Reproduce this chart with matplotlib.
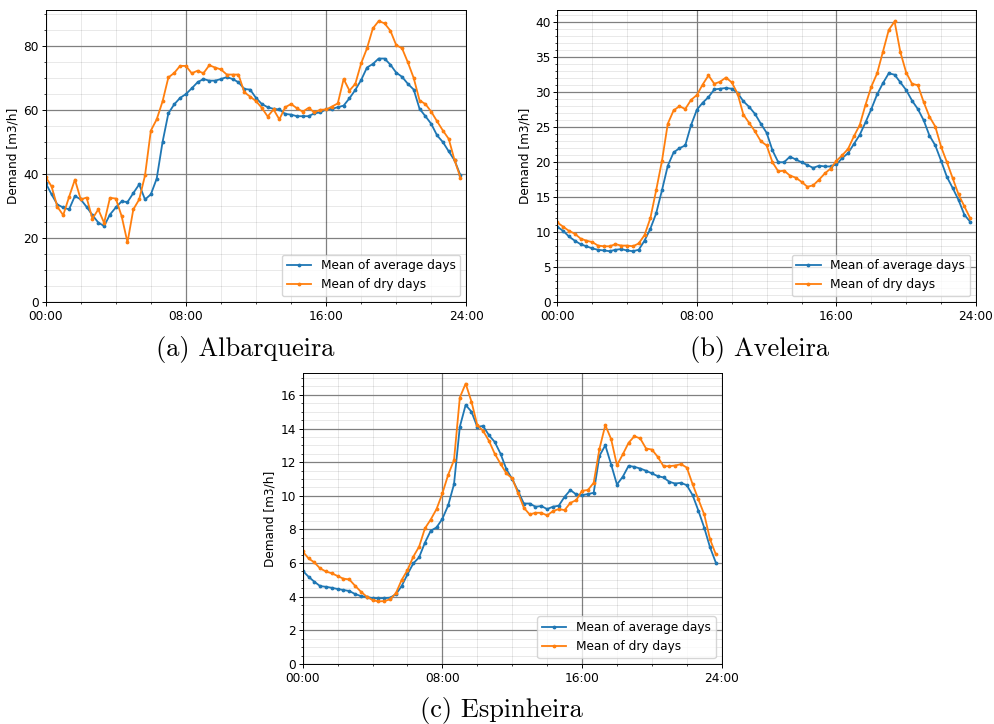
import matplotlib
matplotlib.use("Agg")
import matplotlib.pyplot as plt
import numpy as np
from matplotlib.ticker import AutoMinorLocator, FuncFormatter

# 20-minute samples over one day (72 points)
hours = np.arange(72) / 3.0

albarqueira_avg = [
    37.2, 33.7, 30.5, 29.6, 29.0, 33.2, 32.1, 29.8, 27.2, 24.9, 23.8, 27.4,
    29.6, 31.5, 31.3, 34.1, 36.8, 32.1, 33.7, 38.6, 50.0, 59.0, 61.8, 63.8,
    65.0, 66.8, 68.7, 69.7, 69.2, 69.2, 69.7, 70.3, 69.7, 68.7, 66.6, 66.4,
    63.8, 61.9, 60.9, 60.4, 60.2, 58.8, 58.6, 58.1, 58.1, 58.1, 59.0, 59.3,
    60.2, 60.4, 60.9, 61.4, 63.7, 66.3, 69.4, 73.3, 74.4, 76.1, 76.1, 74.2,
    71.7, 70.4, 68.2, 66.4, 60.4, 58.1, 55.7, 52.1, 50.0, 47.1, 44.3, 39.6,
]
albarqueira_dry = [
    39.1, 36.2, 29.8, 27.2, 32.9, 38.3, 32.1, 32.7, 26.1, 29.0, 24.8, 32.6,
    32.4, 26.9, 18.7, 29.0, 32.1, 39.6, 53.6, 57.1, 62.7, 70.2, 71.6, 73.8,
    73.8, 71.5, 72.3, 71.5, 74.0, 73.3, 72.7, 71.1, 71.1, 71.1, 65.6, 64.2,
    62.8, 60.7, 58.0, 60.2, 57.1, 60.9, 61.9, 60.6, 59.5, 60.7, 59.3, 60.1,
    60.2, 61.1, 62.1, 69.7, 66.1, 68.2, 74.6, 79.3, 85.5, 87.8, 87.1, 84.8,
    80.3, 79.3, 74.9, 70.0, 63.0, 61.9, 59.5, 56.5, 53.6, 51.0, 44.3, 38.9,
]

aveleira_avg = [
    10.8, 10.2, 9.4, 8.8, 8.3, 8.0, 7.7, 7.5, 7.4, 7.3, 7.5, 7.6,
    7.4, 7.3, 7.5, 8.8, 10.5, 12.7, 16.0, 19.5, 21.4, 22.0, 22.4, 25.3,
    27.5, 28.5, 29.3, 30.4, 30.5, 30.6, 30.5, 29.9, 28.7, 27.9, 26.9, 25.5,
    24.2, 21.7, 20.0, 20.0, 20.8, 20.4, 20.0, 19.6, 19.2, 19.5, 19.4, 19.4,
    19.7, 20.6, 21.3, 22.6, 23.9, 25.7, 27.6, 29.7, 31.3, 32.7, 32.5, 31.4,
    30.3, 28.8, 27.6, 26.0, 23.8, 22.4, 20.2, 17.9, 16.3, 14.6, 12.5, 11.5,
]
aveleira_dry = [
    11.4, 10.8, 10.2, 9.8, 9.1, 8.8, 8.6, 8.1, 8.0, 8.0, 8.3, 8.1,
    8.1, 8.0, 8.4, 9.6, 12.0, 16.0, 20.2, 25.5, 27.4, 28.0, 27.6, 28.9,
    29.6, 31.1, 32.4, 31.2, 31.5, 32.1, 31.4, 29.8, 26.8, 25.6, 24.4, 23.0,
    22.4, 20.0, 18.7, 18.8, 18.1, 17.8, 17.2, 16.5, 16.7, 17.5, 18.4, 19.1,
    20.2, 21.0, 21.9, 23.7, 25.3, 28.2, 30.8, 32.7, 35.8, 38.9, 40.1, 35.7,
    32.8, 31.2, 31.0, 28.6, 26.5, 25.1, 22.2, 20.0, 17.7, 15.4, 13.7, 12.0,
]

espinheira_avg = [
    5.54, 5.19, 4.89, 4.63, 4.59, 4.53, 4.46, 4.40, 4.34, 4.16, 4.04, 3.98,
    3.92, 3.90, 3.92, 3.94, 4.14, 4.63, 5.33, 5.98, 6.34, 7.21, 7.92, 8.12,
    8.63, 9.43, 10.69, 14.1, 15.4, 15.0, 14.1, 14.15, 13.6, 13.2, 12.5, 11.58,
    11.0, 10.28, 9.54, 9.54, 9.35, 9.39, 9.21, 9.35, 9.41, 9.94, 10.34, 10.08,
    10.04, 10.1, 10.18, 12.38, 13.0, 11.86, 10.67, 11.13, 11.78, 11.72, 11.62, 11.49,
    11.33, 11.17, 11.09, 10.83, 10.73, 10.77, 10.63, 10.04, 9.11, 8.10, 6.93, 6.02,
]
espinheira_dry = [
    6.69, 6.28, 6.04, 5.68, 5.50, 5.39, 5.23, 5.07, 5.03, 4.65, 4.30, 4.00,
    3.80, 3.72, 3.74, 3.84, 4.20, 4.99, 5.58, 6.38, 6.97, 8.06, 8.59, 9.21,
    10.14, 11.25, 12.12, 15.84, 16.67, 15.6, 14.2, 13.86, 13.27, 12.5, 11.9, 11.33,
    11.03, 10.18, 9.29, 8.89, 8.99, 8.99, 8.83, 9.09, 9.21, 9.15, 9.58, 9.74,
    10.3, 10.34, 10.77, 12.8, 14.2, 13.37, 11.82, 12.46, 13.15, 13.54, 13.41, 12.81,
    12.75, 12.32, 11.76, 11.76, 11.8, 11.88, 11.68, 10.69, 9.78, 8.89, 7.41, 6.51,
]

sites = [
    ("(a) Albarqueira", albarqueira_avg, albarqueira_dry),
    ("(b) Aveleira", aveleira_avg, aveleira_dry),
    ("(c) Espinheira", espinheira_avg, espinheira_dry),
]

# the panels look like default plots shrunk by ~0.87
scale = 0.87
plt.rcParams.update({
    "font.size": 10 * scale,
    "lines.linewidth": 1.5 * scale,
    "axes.linewidth": 0.8 * scale,
    "xtick.major.size": 3.5 * scale,
    "ytick.major.size": 3.5 * scale,
    "xtick.minor.size": 2.0 * scale,
    "ytick.minor.size": 2.0 * scale,
    "xtick.major.width": 0.8 * scale,
    "ytick.major.width": 0.8 * scale,
    "xtick.minor.width": 0.6 * scale,
    "ytick.minor.width": 0.6 * scale,
    "xtick.major.pad": 2.6,
    "ytick.major.pad": 1.8,
})

W, H = 995, 724
# axes boxes in pixels: left, top, right, bottom
boxes = [
    (45.7, 10, 466.3, 302.3),
    (557.3, 10, 976.0, 302.3),
    (302.7, 372.7, 721.7, 664.0),
]
caption_pos = [(245, 350), (760, 350), (501, 710)]

fig = plt.figure(figsize=(W / 100, H / 100), dpi=100)


def hhmm(x, pos):
    return f"{int(round(x)):02d}:00"


for (caption, avg, dry), (l, t, r, b), (cx, cy) in zip(sites, boxes, caption_pos):
    ax = fig.add_axes([l / W, 1 - b / H, (r - l) / W, (b - t) / H])
    ax.plot(hours, avg, marker=".", markersize=4 * scale, label="Mean of average days")
    ax.plot(hours, dry, marker=".", markersize=4 * scale, label="Mean of dry days")
    ax.set_xlim(0, 24)
    ax.set_ylim(bottom=0)
    ax.set_xticks([0, 8, 16, 24])
    ax.xaxis.set_major_formatter(FuncFormatter(hhmm))
    ax.xaxis.set_minor_locator(AutoMinorLocator(4))
    ax.yaxis.set_minor_locator(AutoMinorLocator())
    ax.grid(which="major", color="#808080", linewidth=0.9)
    ax.grid(which="minor", color="black", alpha=0.09, linewidth=0.7)
    ax.set_ylabel("Demand [m3/h]", labelpad=3)
    ax.legend(loc="lower right")
    fig.text(cx / W, 1 - cy / H, caption, family="cmr10", fontsize=19,
             ha="center", va="center")

fig.savefig("out.png", dpi=100)
